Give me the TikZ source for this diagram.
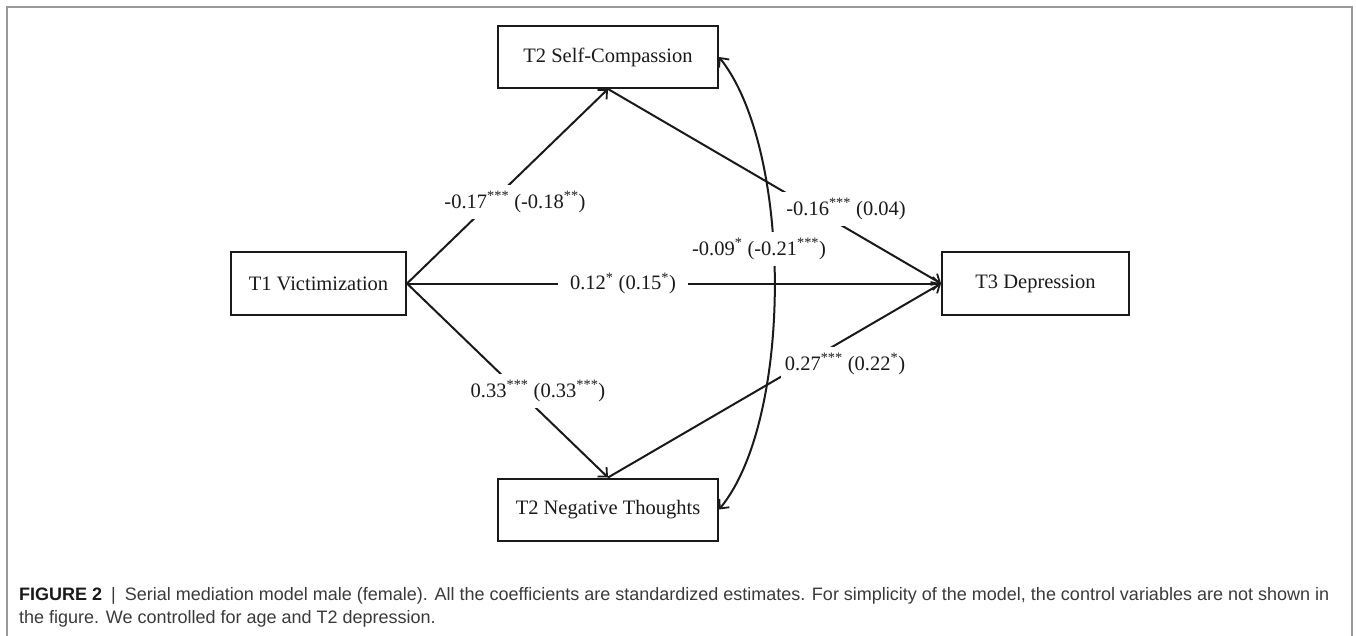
\documentclass[tikz,border=0pt]{standalone}
\usepackage{fontspec}
\setmainfont{Liberation Serif}
\newfontfamily\capfont{Liberation Sans}
\usepackage{graphicx}
\usetikzlibrary{arrows.meta}
\newcommand\pv[1]{\textsuperscript{#1}}
\definecolor{framegray}{HTML}{9A9A9A}
\definecolor{captext}{HTML}{3A3A3A}
\definecolor{ink}{HTML}{1A1A1A}
\begin{document}
\begin{tikzpicture}[x=1pt,y=-1pt,
  box/.style={draw=ink, line width=2pt, inner sep=0pt, text=ink,
    font=\fontsize{20.5}{24}\selectfont},
  lab/.style={fill=white, text=ink, inner xsep=4pt, inner ysep=6pt,
    font=\fontsize{20.5}{24}\selectfont},
  conn/.style={draw=ink, line width=2pt,
    -{Straight Barb[length=7pt,width=13pt,line width=1.8pt]}},
  dconn/.style={draw=ink, line width=2pt,
    {Straight Barb[length=7pt,width=13pt,line width=1.8pt]}-{Straight Barb[length=7pt,width=13pt,line width=1.8pt]}},
  captxt/.style={anchor=base west, inner sep=0pt, text=captext,
    font=\capfont\fontsize{18}{20}\selectfont}
]
\useasboundingbox (0,0) rectangle (1356,635);
% outer frame
\draw[framegray, line width=1.3pt] (7,640) -- (7,7) -- (1352,7) -- (1352,640);

% boxes
\node[box, minimum width=220pt, minimum height=62pt] (sc) at (608,57) {T2 Self-Compassion};
\node[box, minimum width=175pt, minimum height=63pt] (t1) at (318.5,283.5) {T1 Victimization};
\node[box, minimum width=187pt, minimum height=63pt] (t3) at (1035.5,283.5) {T3 Depression};
\node[box, minimum width=220pt, minimum height=62pt] (nt) at (608,509.5) {T2 Negative Thoughts};

% connectors
\draw[conn] (t1.east) -- (sc.south);
\draw[conn] (t1.east) -- (t3.west);
\draw[conn] (t1.east) -- (nt.north);
\draw[conn] (sc.south) -- (t3.west);
\draw[conn] (nt.north) -- (t3.west);
\draw[dconn] (sc.east) .. controls (793,150) and (793,420) .. (nt.east);

% labels
\node[lab] (l1) at (515,202) {-0.17\pv{***} (-0.18\pv{**})};
\node[lab, inner xsep=12pt] (l2) at (623,283.5) {0.12\pv{*} (0.15\pv{*})};
\node[lab] (l3) at (538,391) {0.33\pv{***} (0.33\pv{***})};
\node[lab] (l4) at (846,209) {-0.16\pv{***} (0.04)};
\node[lab] (l5) at (759,249) {-0.09\pv{*} (-0.21\pv{***})};
\node[lab] (l6) at (845,364) {0.27\pv{***} (0.22\pv{*})};

% caption
\node[captxt] (cap1) at (19,600)
  {\makebox[1310pt][s]{\textcolor{ink}{\textbf{FIGURE 2}}\enspace|\enspace Serial mediation model male (female). All the coefficients are standardized estimates. For simplicity of the model, the control variables are not shown in}};
\node[captxt] (cap2) at (19,623)
  {the figure. We controlled for age and T2 depression.};
\end{tikzpicture}
\end{document}
